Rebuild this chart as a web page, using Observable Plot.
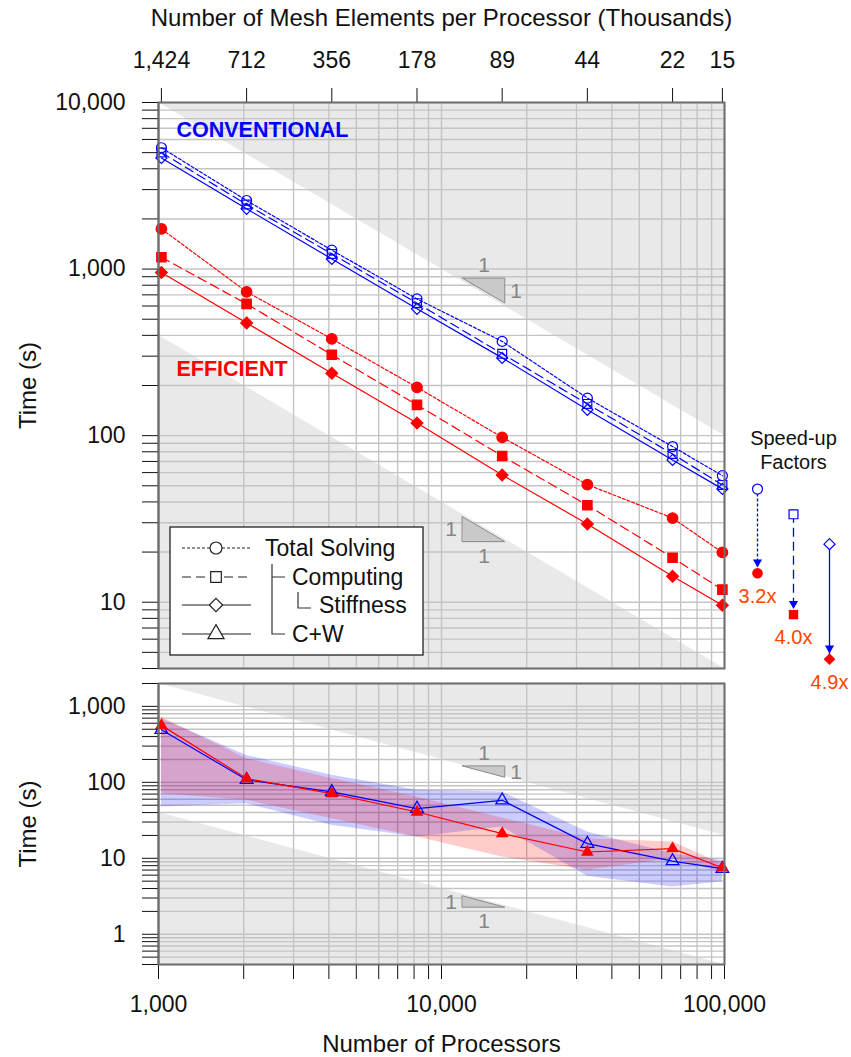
<!DOCTYPE html>
<html><head><meta charset="utf-8">
<script src="https://cdn.jsdelivr.net/npm/d3@7"></script>
<script src="https://cdn.jsdelivr.net/npm/@observablehq/plot@0.6"></script>
<style>
body{margin:0;background:#fff;}
#wrap{position:relative;width:851px;height:1057px;overflow:hidden;}
</style></head><body><div id="wrap"></div>
<script>
// ---------------- data ----------------
const processors = [1024, 2048, 4096, 8192, 16384, 32768, 65536, 98304];
const meshLabels = ["1,424", "712", "356", "178", "89", "44", "22", "15"];

const convTotal     = [5350, 2580, 1300, 662, 368, 168, 86, 57.5];
const convComputing = [5010, 2440, 1233, 624, 310, 155, 77.6, 50.6];
const convStiffness = [4650, 2300, 1151, 577, 293, 143, 71.5, 47.9];
const effTotal      = [1742, 730, 381, 195, 97.7, 50.8, 32, 19.9];
const effComputing  = [1178, 618, 306, 153, 75.5, 38.2, 18.5, 11.9];
const effStiffness  = [953, 475, 237, 119, 58, 29.5, 14.3, 9.6];

const convCW   = [493, 108, 74.7, 45.1, 58, 15.6, 9.2, 7.3];
const convCWHi = [689, 226, 124, 78.5, 74.6, 22.2, 11.5, 9.4];
const convCWLo = [47.3, 52.4, 27.2, 19.1, 25.8, 5.8, 4.2, 4.9];
const effCW    = [562, 112, 71, 40.7, 21.1, 12.1, 13.4, 7.5];
const effCWHi  = [724, 205, 112, 64, 34, 18.1, 16.4, 8.5];
const effCWLo  = [71, 58, 33.2, 19.1, 10.4, 6.95, 9.9, 6.6];

const speedLabels = ["3.2x", "4.0x", "4.9x"];
const speedFrom   = [47.8, 33.7, 22.3];
const speedFactor = [3.2, 4.0, 4.9];

// ideal-scaling reference bands (slope -1)
const idealX        = [1000, 100000];
const topBandUpper  = [10000, 100];
const topBandLower  = [400, 4];
const botBandUpper  = [2000, 20];
const botBandLower  = [40, 0.4];

// slope triangles
const slopeX = [11900, 16800];
const slopeTopPanel = [877, 32.4];
const slopeBotPanel = [162, 3.16];

const xLabelTicks = [1000, 10000, 100000];
const legendLabels = ["Total Solving", "Computing", "Stiffness", "C+W"];

// ---------------- helpers ----------------
const FONT = "'Liberation Sans', Arial, Helvetica, sans-serif";
const BLUE = "#0000ff", RED = "#ff0000", GRID = "#c4c4c4", BAND = "#e9e9e9";
function multiples(lo, hi) {
  const out = [];
  for (let e = Math.floor(Math.log10(lo)); e <= Math.ceil(Math.log10(hi)); e++)
    for (let m = 1; m <= 9; m++) {
      const v = +(m * Math.pow(10, e)).toPrecision(6);
      if (v >= lo - 1e-9 && v <= hi + 1e-9) out.push(v);
    }
  return out;
}
const isPow10 = d => Math.abs(Math.log10(d) - Math.round(Math.log10(d))) < 1e-9;
const fmt = d3.format(",");
const xTicks = multiples(1000, 100000);

function bandMarks(upper, lower, ymax, ymin) {
  const up = idealX.map((x, i) => ({x, y1: upper[i], y2: ymax}));
  const lo = idealX.map((x, i) => ({x, y1: ymin, y2: lower[i]}));
  return [
    Plot.areaY(up, {x: "x", y1: "y1", y2: "y2", fill: BAND}),
    Plot.areaY(lo, {x: "x", y1: "y1", y2: "y2", fill: BAND})
  ];
}
function slopeMarks([upperTop, lowerTop]) {
  const r = slopeX[1] / slopeX[0], xm = Math.sqrt(slopeX[0] * slopeX[1]);
  const up = [{x: slopeX[0], y1: upperTop, y2: upperTop}, {x: slopeX[1], y1: upperTop / r, y2: upperTop}];
  const lo = [{x: slopeX[0], y1: lowerTop / r, y2: lowerTop}, {x: slopeX[1], y1: lowerTop / r, y2: lowerTop / r}];
  const tOpt = {text: () => "1", fill: "#858585", fontSize: 21, fontFamily: FONT};
  return [
    Plot.areaY(up, {x: "x", y1: "y1", y2: "y2", fill: "#c9c9c9", stroke: "#8a8a8a", strokeWidth: 1}),
    Plot.areaY(lo, {x: "x", y1: "y1", y2: "y2", fill: "#c9c9c9", stroke: "#8a8a8a", strokeWidth: 1}),
    Plot.text([{x: xm, y: upperTop}], {x: "x", y: "y", dy: -13, ...tOpt}),
    Plot.text([{x: slopeX[1], y: upperTop / Math.sqrt(r)}], {x: "x", y: "y", dx: 5, textAnchor: "start", ...tOpt}),
    Plot.text([{x: slopeX[0], y: lowerTop / Math.sqrt(r)}], {x: "x", y: "y", dx: -6, textAnchor: "end", ...tOpt}),
    Plot.text([{x: xm, y: lowerTop / r}], {x: "x", y: "y", dy: 14, ...tOpt})
  ];
}
function seriesMarks(values, color, dash, symbol, filled, r) {
  const data = processors.map((x, i) => ({x, y: values[i]}));
  return [
    Plot.line(data, {x: "x", y: "y", stroke: color, strokeWidth: 1.2, strokeDasharray: dash || undefined}),
    Plot.dot(data, {x: "x", y: "y", symbol, r, stroke: color, strokeWidth: 1.2, fill: filled ? color : "none"})
  ];
}

const wrap = document.getElementById("wrap");
function place(svg, top) {
  svg.style.position = "absolute";
  svg.style.left = "0px";
  svg.style.top = top + "px";
  wrap.appendChild(svg);
}

// ---------------- top panel ----------------
const yTicksTop = multiples(4, 10000);
const meshData = processors.map((x, i) => ({x, label: meshLabels[i]}));
const topPlot = Plot.plot({
  width: 851, height: 680,
  marginLeft: 158, marginRight: 127, marginTop: 102, marginBottom: 12,
  x: {type: "log", domain: [1000, 100000]},
  y: {type: "log", domain: [4, 10000]},
  style: {fontFamily: FONT, fontSize: "23px", background: "transparent", color: "#111"},
  marks: [
    ...bandMarks(topBandUpper, topBandLower, 10000, 4),
    Plot.gridX({ticks: xTicks, stroke: GRID, strokeOpacity: 1, strokeWidth: 1.4}),
    Plot.gridY({ticks: yTicksTop, stroke: GRID, strokeOpacity: 1, strokeWidth: 1.4}),
    ...slopeMarks(slopeTopPanel),
    ...seriesMarks(convTotal, BLUE, "3,2", "circle", false, 5),
    ...seriesMarks(convComputing, BLUE, "9,5", "square", false, 5),
    ...seriesMarks(convStiffness, BLUE, null, "diamond2", false, 5),
    ...seriesMarks(effTotal, RED, "3,2", "circle", true, 5.3),
    ...seriesMarks(effComputing, RED, "9,5", "square", true, 5.3),
    ...seriesMarks(effStiffness, RED, null, "diamond2", true, 5.3),
    Plot.axisY({ticks: yTicksTop, tickFormat: d => isPow10(d) ? fmt(d) : "", tickSize: 16, tickPadding: 17, label: null, fontSize: 23, stroke: "#111"}),
    Plot.axisX({anchor: "top", ticks: processors, tickFormat: () => "", tickSize: 15, label: null, stroke: "#111"}),
    Plot.text(meshData, {x: "x", text: "label", frameAnchor: "top", lineAnchor: "middle", dy: -42, fontSize: 23, fill: "#111"}),
    Plot.text(["Number of Mesh Elements per Processor (Thousands)"], {frameAnchor: "top", lineAnchor: "middle", dy: -84, fontSize: 24}),
    Plot.text(["Time (s)"], {frameAnchor: "left", textAnchor: "middle", lineAnchor: "middle", rotate: -90, dx: -130, fontSize: 24}),
    Plot.text(["CONVENTIONAL"], {frameAnchor: "top-left", textAnchor: "start", lineAnchor: "middle", dx: 18, dy: 28, fontSize: 21.5, fontWeight: "bold", fill: BLUE}),
    Plot.text(["EFFICIENT"], {frameAnchor: "top-left", textAnchor: "start", lineAnchor: "middle", dx: 18, dy: 267, fontSize: 21.5, fontWeight: "bold", fill: RED}),
    Plot.ruleX([1000], {stroke: "#222", strokeWidth: 1.5}),
    Plot.frame({stroke: "#6e6e6e", strokeWidth: 2})
  ]
});
place(topPlot, 0);

// legend (inside the top panel)
{
  const svg = d3.select(topPlot);
  const g = svg.append("g").attr("font-family", FONT).attr("font-size", 23).attr("text-anchor", "start");
  g.append("rect").attr("x", 170).attr("y", 527).attr("width", 253).attr("height", 128)
    .attr("fill", "white").attr("stroke", "#222").attr("stroke-width", 1.3);
  const rows = [
    {y: 548, dash: "3,2", sym: d3.symbolCircle, tx: 265},
    {y: 577, dash: "9,5", sym: d3.symbolSquare, tx: 292},
    {y: 605, dash: null, sym: d3.symbolDiamond2, tx: 319},
    {y: 634, dash: null, sym: d3.symbolTriangle, tx: 292}
  ];
  rows.forEach((r, i) => {
    g.append("line").attr("x1", 182).attr("x2", 251).attr("y1", r.y).attr("y2", r.y)
      .attr("stroke", "#222").attr("stroke-width", 1.2).attr("stroke-dasharray", r.dash);
    const rad = i === 3 ? 6 : 6;
    const size = Math.PI * rad * rad;
    g.append("path").attr("d", d3.symbol(r.sym, size)()).attr("transform", `translate(216,${r.y})`)
      .attr("fill", "white").attr("stroke", "#222").attr("stroke-width", 1.2);
    g.append("text").attr("x", r.tx).attr("y", r.y).attr("dy", "0.35em").attr("fill", "#111").text(legendLabels[i]);
  });
  g.append("path").attr("d", "M272,564V634H285M272,577H285M298,592V608H311")
    .attr("fill", "none").attr("stroke", "#333").attr("stroke-width", 1.2);
}

// speed-up factor annotation (shares the top panel's y scale)
const speedData = speedLabels.map((label, i) => ({
  label, from: speedFrom[i], to: speedFrom[i] / speedFactor[i],
  symbol: ["circle", "square", "diamond2"][i], dash: ["3,2", "9,5", null][i]
}));
const speedPlot = Plot.plot({
  width: 851, height: 720, marginTop: 102, marginBottom: 52, marginLeft: 0, marginRight: 0,
  x: {type: "point", domain: speedLabels, range: [757, 829], padding: 0, axis: null},
  y: {type: "log", domain: [4, 10000], axis: null},
  style: {fontFamily: FONT, background: "transparent"},
  marks: [
    Plot.text(["Speed-up\nFactors"], {x: () => speedLabels[1], frameAnchor: "top", lineAnchor: "middle", dy: 347, fontSize: 20, lineHeight: 1.2, fill: "#111"}),
    ...speedData.map(d => Plot.ruleX([d], {x: "label", y1: "from", y2: "to", stroke: BLUE, strokeWidth: 1.3, strokeDasharray: d.dash || undefined})),
    Plot.dot(speedData, {x: "label", y: "to", symbol: "triangle", rotate: 180, r: 3.4, fill: BLUE, dy: -11}),
    ...speedData.map(d => Plot.dot([d], {x: "label", y: "from", symbol: d.symbol, r: 5, stroke: BLUE, strokeWidth: 1.2, fill: "white"})),
    ...speedData.map(d => Plot.dot([d], {x: "label", y: "to", symbol: d.symbol, r: 5.3, fill: RED})),
    Plot.text(speedData, {x: "label", y: "to", text: "label", dy: 23, fontSize: 20, fill: "#ff4500"})
  ]
});
place(speedPlot, 0);

// ---------------- bottom panel ----------------
const yTicksBot = multiples(0.4, 2000);
const cwBlue = processors.map((x, i) => ({x, y: convCW[i], lo: convCWLo[i], hi: convCWHi[i]}));
const cwRed = processors.map((x, i) => ({x, y: effCW[i], lo: effCWLo[i], hi: effCWHi[i]}));
const botPlot = Plot.plot({
  width: 851, height: 377,
  marginLeft: 158, marginRight: 127, marginTop: 3, marginBottom: 93,
  x: {type: "log", domain: [1000, 100000]},
  y: {type: "log", domain: [0.4, 2000]},
  style: {fontFamily: FONT, fontSize: "23px", background: "transparent", color: "#111"},
  marks: [
    ...bandMarks(botBandUpper, botBandLower, 2000, 0.4),
    Plot.gridX({ticks: xTicks, stroke: GRID, strokeOpacity: 1, strokeWidth: 1.4}),
    Plot.gridY({ticks: yTicksBot, stroke: GRID, strokeOpacity: 1, strokeWidth: 1.4}),
    ...slopeMarks(slopeBotPanel),
    Plot.areaY(cwBlue, {x: "x", y1: "lo", y2: "hi", fill: BLUE, fillOpacity: 0.2}),
    Plot.areaY(cwRed, {x: "x", y1: "lo", y2: "hi", fill: RED, fillOpacity: 0.2}),
    Plot.line(cwBlue, {x: "x", y: "y", stroke: BLUE, strokeWidth: 1.2}),
    Plot.dot(cwBlue, {x: "x", y: "y", symbol: "triangle", r: 4.7, stroke: BLUE, strokeWidth: 1.3, fill: "none"}),
    Plot.line(cwRed, {x: "x", y: "y", stroke: RED, strokeWidth: 1.2}),
    Plot.dot(cwRed, {x: "x", y: "y", symbol: "triangle", r: 4.7, fill: RED}),
    Plot.axisY({ticks: yTicksBot, tickFormat: d => isPow10(d) ? fmt(d) : "", tickSize: 16, tickPadding: 17, label: null, fontSize: 23, stroke: "#111"}),
    Plot.axisX({ticks: xTicks, tickFormat: d => xLabelTicks.includes(d) ? fmt(d) : "", tickSize: 15, tickPadding: 16, label: null, fontSize: 23, stroke: "#111"}),
    Plot.text(["Number of Processors"], {frameAnchor: "bottom", lineAnchor: "middle", dy: 80, fontSize: 24}),
    Plot.text(["Time (s)"], {frameAnchor: "left", textAnchor: "middle", lineAnchor: "middle", rotate: -90, dx: -130, fontSize: 24}),
    Plot.ruleX([1000], {stroke: "#222", strokeWidth: 1.5}),
    Plot.frame({stroke: "#6e6e6e", strokeWidth: 2})
  ]
});
place(botPlot, 680);
</script></body></html>
